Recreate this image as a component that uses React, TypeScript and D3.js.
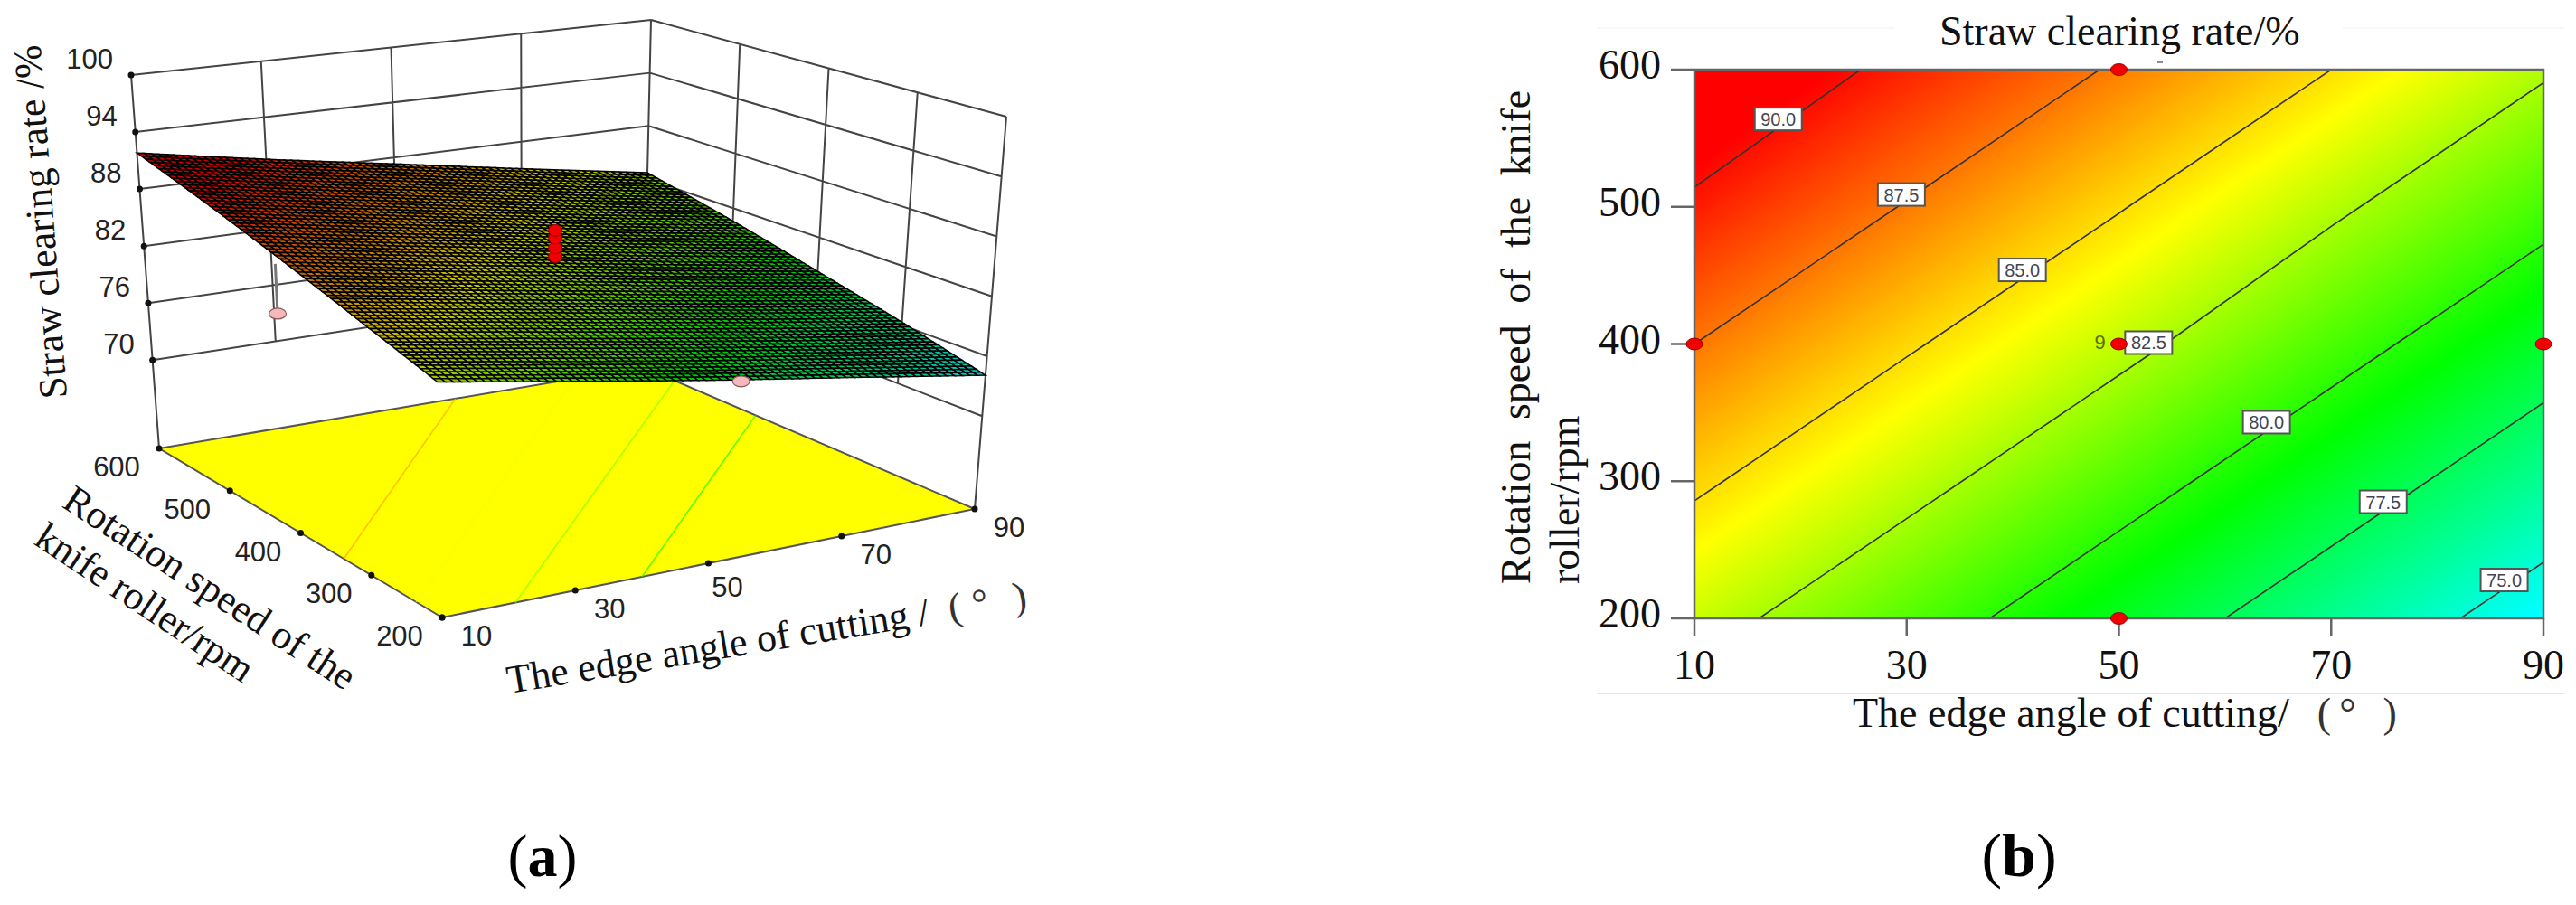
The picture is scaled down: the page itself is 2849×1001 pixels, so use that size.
import * as d3 from 'd3'

const angleTicks = [10, 30, 50, 70, 90]
const speedTicks = [200, 300, 400, 500, 600]
const rateTicks = [70, 76, 82, 88, 94, 100]

// rates, one row per speed, columns follow angleTicks
const rates600 = [91.8, 89.5, 87.3, 85.0, 82.7]
const rates500 = [89.7, 87.4, 85.1, 82.8, 80.6]
const rates400 = [87.5, 85.2, 83.0, 80.7, 78.4]
const rates300 = [85.3, 83.1, 80.8, 78.5, 76.3]
const rates200 = [83.2, 80.9, 78.6, 76.4, 74.1]
const rateRows = [rates600, rates500, rates400, rates300, rates200]

const contourLevels = [75, 77.5, 80, 82.5, 85, 87.5, 90]
const labelAngles = [86.3, 74.9, 63.9, 52.8, 40.9, 29.5, 17.9]
const labelSpeeds = [228, 285, 343, 401, 454, 509, 564]

// contour lines on the floor of panel (a): level, then both ends as angle/speed
const floorLevels = [86.2, 84, 81.9, 79.8]
const floorStartAngles = [10, 10, 21, 40]
const floorStartSpeeds = [339, 237, 200, 200]
const floorEndAngles = [59, 78.7, 90, 90]
const floorEndSpeeds = [600, 600, 562, 464]

const designAngles = [10, 50, 50, 90, 50]
const designSpeeds = [400, 600, 400, 400, 200]
const replicateRates = [84.3, 85.2, 86.2, 87]
const lowPointAngles = [10, 54]
const lowPointSpeeds = [418, 200]
const lowPointRates = [82, 78]

const FLOOR_RATE = 60.7
const serif = '"Liberation Serif", serif'
const sans = '"Liberation Sans", sans-serif'

// colour ramp of the response
const heat = d3
  .scaleLinear<string>()
  .domain([74.2, 79.2, 84.2, 90.3])
  .range(['#00ffff', '#00ff00', '#ffff00', '#ff0000'])
  .clamp(true)

const gridValues = rateRows.flat()
const contourGen = d3.contours().size([5, 5])
const bandLevels = d3.range(74, 92, 0.05)
const angleAtCol = d3.scaleLinear().domain([0.5, 4.5]).range([10, 90])
const speedAtRow = d3.scaleLinear().domain([0.5, 4.5]).range([600, 200])

function rateAt(angle: number, speed: number) {
  const c = (angle - 10) / 20
  const r = (600 - speed) / 100
  const c0 = Math.min(Math.floor(c), 3)
  const r0 = Math.min(Math.floor(r), 3)
  const top = d3.interpolateNumber(rateRows[r0][c0], rateRows[r0][c0 + 1])(c - c0)
  const bottom = d3.interpolateNumber(rateRows[r0 + 1][c0], rateRows[r0 + 1][c0 + 1])(c - c0)
  return d3.interpolateNumber(top, bottom)(r - r0)
}

// panel (a): corners of the box, [angle 10 speed 600, 90/600, 90/200, 10/200]
const floorBox = [[176, 496], [711, 406], [1078, 563], [489, 683]]
const topBox = [[145, 83], [720, 22], [1113, 129], [480, 228]]
const uScale = d3.scaleLinear().domain([10, 90]).range([0, 1])
const vScale = d3.scaleLinear().domain([600, 200]).range([0, 1])
const tScale = d3.scaleLinear().domain([FLOOR_RATE, 100]).range([0, 1])

function onBox(box: number[][], u: number, v: number) {
  const at = (k: number) =>
    (1 - u) * (1 - v) * box[0][k] + u * (1 - v) * box[1][k] + u * v * box[2][k] + (1 - u) * v * box[3][k]
  return [at(0), at(1)]
}

function project(angle: number, speed: number, rate: number): [number, number] {
  const u = uScale(angle)
  const v = vScale(speed)
  const t = tScale(rate)
  const a = onBox(floorBox, u, v)
  const b = onBox(topBox, u, v)
  return [a[0] + (b[0] - a[0]) * t, a[1] + (b[1] - a[1]) * t]
}

function line3d(a0: number, s0: number, r0: number, a1: number, s1: number, r1: number) {
  const p = d3.path()
  p.moveTo(...project(a0, s0, r0))
  p.lineTo(...project(a1, s1, r1))
  return p.toString()
}

const wallLines: string[] = []
rateTicks.forEach(r => {
  wallLines.push(line3d(10, 600, r, 90, 600, r))
  wallLines.push(line3d(90, 600, r, 90, 200, r))
})
angleTicks.slice(1, 4).forEach(a => wallLines.push(line3d(a, 600, 70, a, 600, 100)))
speedTicks.slice(1, 4).forEach(s => wallLines.push(line3d(90, s, 70, 90, s, 100)))
wallLines.push(line3d(90, 600, 70, 90, 600, 100))
wallLines.push(line3d(10, 600, FLOOR_RATE, 10, 600, 100))
wallLines.push(line3d(90, 200, FLOOR_RATE, 90, 200, 100))

// surface mesh
const MESH = 70
const meshAngle = d3.scaleLinear().domain([0, MESH]).range([10, 90])
const meshSpeed = d3.scaleLinear().domain([0, MESH]).range([600, 200])
const surfacePoint = (i: number, j: number) => {
  const a = meshAngle(i)
  const s = meshSpeed(j)
  return project(a, s, rateAt(a, s))
}
const meshCells: { d: string; fill: string }[] = []
d3.range(MESH).forEach(i => {
  d3.range(MESH).forEach(j => {
    const pts = [surfacePoint(i, j), surfacePoint(i + 1, j), surfacePoint(i + 1, j + 1), surfacePoint(i, j + 1)]
    const base = heat(rateAt(meshAngle(i + 0.5), meshSpeed(j + 0.5)))
    meshCells.push({
      d: d3.line()(pts) + 'Z',
      fill: d3.interpolateRgb(base, '#000')(0.22),
    })
  })
})
const floorOutline = d3.line()(floorBox as [number, number][]) + 'Z'

// panel (b)
const xB = d3.scaleLinear().domain([10, 90]).range([1874, 2813])
const yB = d3.scaleLinear().domain([200, 600]).range([684, 77])
const planePath = d3.geoPath(
  d3.geoTransform({
    point(x, y) {
      this.stream.point(xB(angleAtCol(x)), yB(speedAtRow(y)))
    },
  })
)

function AngleUnit({ gap }: { gap: number[] }) {
  return (
    <>
      <tspan dx={gap[0]} fill="#333">(</tspan>
      <tspan dx={gap[1]} fill="#333">°</tspan>
      <tspan dx={gap[2]} fill="#333">)</tspan>
    </>
  )
}

export default function App() {
  return (
    <svg
      width={2849}
      height={1001}
      viewBox="0 0 2849 1001"
      style={{ position: 'absolute', left: 0, top: 0, background: '#fff' }}
    >
      <defs>
        <clipPath id="plane">
          <rect x={xB(10)} y={yB(600)} width={xB(90) - xB(10)} height={yB(200) - yB(600)} />
        </clipPath>
      </defs>

      {/* (a) response surface */}
      <g>
        <path d={wallLines.join('')} fill="none" stroke="#444" strokeWidth={2} />
        <path d={floorOutline} fill="#ffff00" stroke="#555" strokeWidth={2} />
        {floorLevels.map((level, i) => (
          <path
            key={level}
            d={line3d(
              floorStartAngles[i],
              floorStartSpeeds[i],
              FLOOR_RATE,
              floorEndAngles[i],
              floorEndSpeeds[i],
              FLOOR_RATE
            )}
            fill="none"
            stroke={heat(level)}
            strokeWidth={1.6}
            strokeOpacity={0.75}
          />
        ))}
        <path d={line3d(10, 418, 87, 10, 418, 82)} stroke="#777" strokeWidth={3} fill="none" />
        <g>
          {meshCells.map((c, i) => (
            <path key={i} d={c.d} fill={c.fill} stroke="#000" strokeWidth={1.5} />
          ))}
        </g>
        {replicateRates.map(r => {
          const [x, y] = project(50, 400, r)
          return <ellipse key={r} cx={x} cy={y} rx={7.5} ry={6.5} fill="#f00000" stroke="#a00000" strokeWidth={1} />
        })}
        {lowPointAngles.map((a, i) => {
          const [x, y] = project(a, lowPointSpeeds[i], lowPointRates[i])
          return <ellipse key={a} cx={x} cy={y} rx={9.5} ry={6} fill="#f6b8bc" stroke="#8a5a5a" strokeWidth={1.2} />
        })}
        {rateTicks.map(r => {
          const [x, y] = project(10, 600, r)
          return (
            <g key={r}>
              <circle cx={x} cy={y} r={3.5} fill="#111" />
              <text x={x - 20} y={y - 7} textAnchor="end" fontFamily={sans} fontSize={31} fill="#222">{r}</text>
            </g>
          )
        })}
        {speedTicks.map(s => {
          const [x, y] = project(10, s, FLOOR_RATE)
          return (
            <g key={s}>
              <circle cx={x} cy={y} r={3.5} fill="#111" />
              <text x={x - 47} y={y + 31} textAnchor="middle" fontFamily={sans} fontSize={31} fill="#222">{s}</text>
            </g>
          )
        })}
        {angleTicks.map(a => {
          const [x, y] = project(a, 200, FLOOR_RATE)
          const dx = a === 50 ? 21 : 38
          const dy = a === 50 ? 37 : 31
          return (
            <g key={a}>
              <circle cx={x} cy={y} r={3.5} fill="#111" />
              <text x={x + dx} y={y + dy} textAnchor="middle" fontFamily={sans} fontSize={31} fill="#222">{a}</text>
            </g>
          )
        })}
        <g fontFamily={serif} fontSize={44} fill="#111">
          <text transform="translate(74,440) rotate(-94.3)">Straw clearing rate /%</text>
          <text transform="translate(67,560) rotate(33)">Rotation speed of the</text>
          <text transform="translate(36,601) rotate(33.7)">knife roller/rpm</text>
          <text transform="translate(563,767) rotate(-9.3)">
            The edge angle of cutting /
            <AngleUnit gap={[22, 12, 28]} />
          </text>
        </g>
      </g>

      {/* (b) contour plot */}
      <g>
        <line x1={1766} x2={2096} y1={31} y2={31} stroke="#f4f4f4" strokeWidth={1.5} />
        <line x1={2591} x2={2836} y1={31} y2={31} stroke="#f4f4f4" strokeWidth={1.5} />
        <line x1={1766} x2={2836} y1={767} y2={767} stroke="#ddd" strokeWidth={1.5} />
        <g clipPath="url(#plane)">
          <rect x={xB(10)} y={yB(600)} width={xB(90) - xB(10)} height={yB(200) - yB(600)} fill={heat(74)} />
          {contourGen.thresholds(bandLevels)(gridValues).map(c => (
            <path key={c.value} d={planePath(c) ?? ''} fill={heat(c.value)} />
          ))}
          {contourGen.thresholds(contourLevels)(gridValues).map(c => (
            <path key={c.value} d={planePath(c) ?? ''} fill="none" stroke="#333" strokeWidth={1.6} />
          ))}
        </g>
        <rect
          x={xB(10)}
          y={yB(600)}
          width={xB(90) - xB(10)}
          height={yB(200) - yB(600)}
          fill="none"
          stroke="#666"
          strokeWidth={2.5}
        />
        {speedTicks.map(s => (
          <g key={s}>
            <line x1={xB(10) - 26} x2={xB(10)} y1={yB(s)} y2={yB(s)} stroke="#666" strokeWidth={2.5} />
            <text x={xB(10) - 37} y={yB(s) + 10} textAnchor="end" fontFamily={serif} fontSize={46} fill="#111">{s}</text>
          </g>
        ))}
        {angleTicks.map(a => (
          <g key={a}>
            <line x1={xB(a)} x2={xB(a)} y1={yB(200)} y2={yB(200) + 19} stroke="#666" strokeWidth={2.5} />
            <text x={xB(a)} y={751} textAnchor="middle" fontFamily={serif} fontSize={46} fill="#111">{a}</text>
          </g>
        ))}
        {contourLevels.map((level, i) => {
          const x = xB(labelAngles[i])
          const y = yB(labelSpeeds[i])
          return (
            <g key={level}>
              <rect x={x - 26} y={y - 12.5} width={52} height={25} fill="#fff" stroke="#555" strokeWidth={2} />
              <text x={x} y={y + 7.5} textAnchor="middle" fontFamily={sans} fontSize={20} fill="#445">
                {level.toFixed(1)}
              </text>
            </g>
          )
        })}
        {designAngles.map((a, i) => (
          <ellipse
            key={i}
            cx={xB(a)}
            cy={yB(designSpeeds[i])}
            rx={9}
            ry={6.5}
            fill="#f00000"
            stroke="#900"
            strokeWidth={1}
          />
        ))}
        <text x={xB(50) - 27} y={yB(400) + 5} fontFamily={sans} fontSize={22} fill="#5a7000">9</text>
        <line x1={2386} x2={2392} y1={69} y2={69} stroke="#667" strokeWidth={1.5} />
        <g fontFamily={serif} fontSize={46} fill="#111">
          <text x={2145} y={50}>Straw clearing rate/%</text>
          <text transform="translate(1692,646) rotate(-90)" wordSpacing={12}>Rotation speed of the knife</text>
          <text transform="translate(1746,646) rotate(-90)">roller/rpm</text>
          <text x={2049} y={804}>
            The edge angle of cutting/
            <AngleUnit gap={[31, 9, 30]} />
          </text>
        </g>
      </g>

      {/* panel captions */}
      <text x={600} y={969} textAnchor="middle" fontFamily={serif} fontSize={66} fill="#000">
        (<tspan fontWeight="bold">a</tspan>)
      </text>
      <text x={2233} y={969} textAnchor="middle" fontFamily={serif} fontSize={68} fill="#000">
        (<tspan fontWeight="bold">b</tspan>)
      </text>
    </svg>
  )
}
